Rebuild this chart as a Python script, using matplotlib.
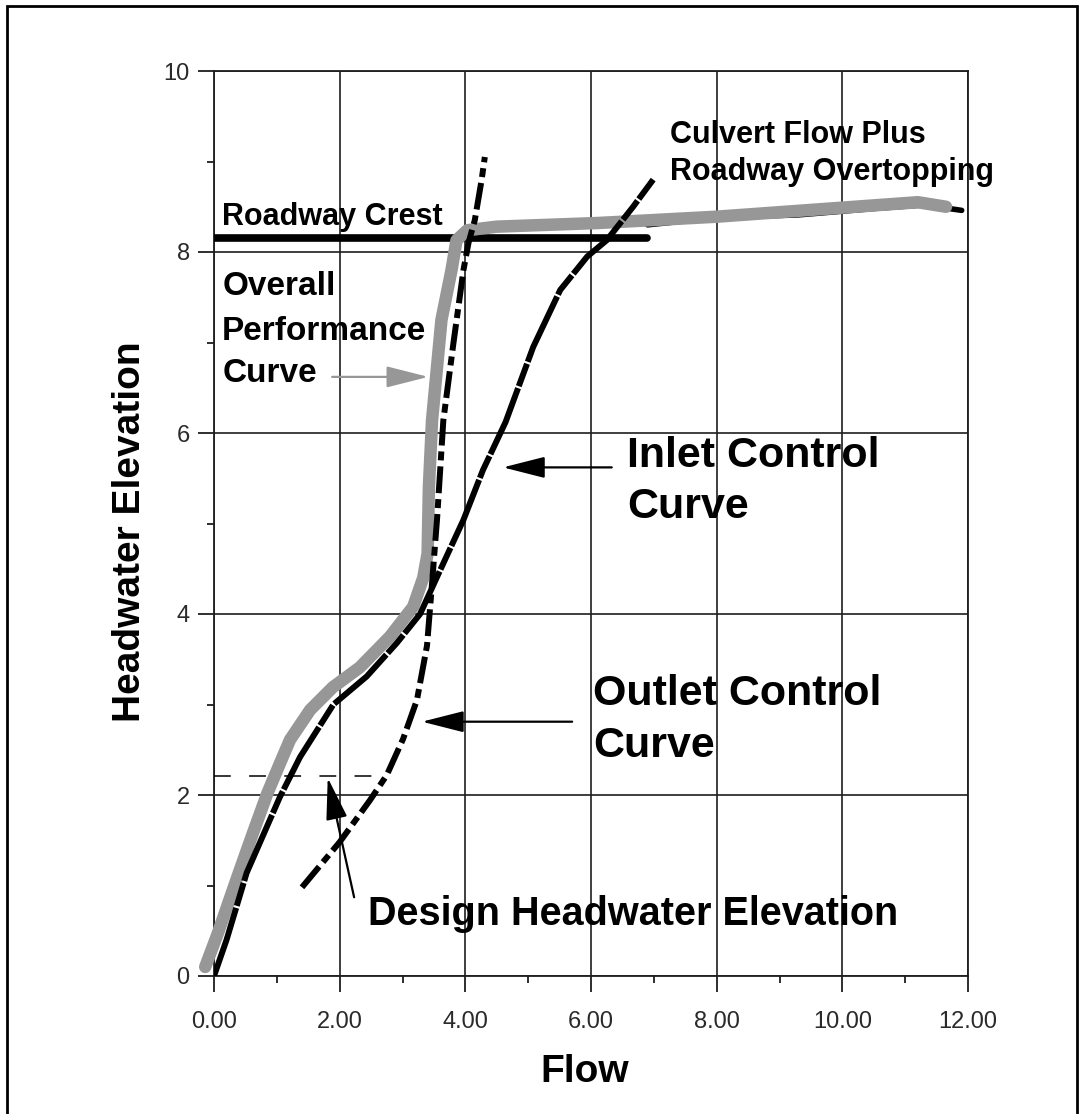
import matplotlib
matplotlib.use("Agg")
import matplotlib.pyplot as plt
from matplotlib.patches import Rectangle
from matplotlib.ticker import MultipleLocator, FormatStrFormatter

plt.rcParams['font.family'] = ['Liberation Sans', 'DejaVu Sans']

# ---------------- data ----------------
perf_x = [-0.14, 0.06, 0.37, 0.62, 0.85, 1.05, 1.21, 1.53, 1.89, 2.32, 2.80, 3.17, 3.33,
          3.40, 3.42, 3.47, 3.62, 3.78, 3.86, 4.03, 4.50, 6.10, 8.00, 10.00, 11.20, 11.65]
perf_y = [0.10, 0.47, 1.09, 1.58, 2.02, 2.35, 2.61, 2.94, 3.19, 3.41, 3.75, 4.08, 4.40,
          4.67, 5.40, 6.14, 7.25, 7.80, 8.13, 8.24, 8.28, 8.32, 8.39, 8.49, 8.55, 8.50]

inlet_x = [0.0, 0.2, 0.52, 1.05, 1.37, 1.9, 2.43, 2.91, 3.28, 3.55, 3.97, 4.28, 4.64,
           5.08, 5.51, 5.94, 6.25, 6.67, 6.99]
inlet_y = [0.0, 0.40, 1.14, 1.98, 2.42, 3.0, 3.31, 3.68, 4.0, 4.41, 5.04, 5.59, 6.12,
           6.95, 7.58, 7.95, 8.13, 8.50, 8.80]

outlet_x = [1.40, 2.0, 2.48, 2.75, 3.01, 3.23, 3.39, 3.46, 3.55, 3.65, 3.81, 3.97, 4.05,
            4.15, 4.26, 4.31]
outlet_y = [0.98, 1.48, 1.94, 2.22, 2.62, 3.05, 3.65, 4.25, 5.05, 6.14, 6.99, 7.80, 8.10,
            8.35, 8.80, 9.05]

overtop_x = [6.9, 8.0, 9.3, 10.5, 11.3, 11.9]
overtop_y = [8.30, 8.38, 8.41, 8.48, 8.52, 8.46]

crest_x = [0.0, 6.89]
crest_y = [8.15, 8.15]

design_x = [0.0, 2.65]
design_y = [2.21, 2.21]

x_ticks = [0, 2, 4, 6, 8, 10, 12]
y_ticks = [0, 2, 4, 6, 8, 10]

GRAY = '#979797'
DARK = '#1e1e1e'

W, H = 1081, 1114
fig = plt.figure(figsize=(W / 100, H / 100), dpi=100)
fig.patch.set_facecolor('white')
ax = fig.add_axes([214 / W, 1 - 976 / H, (968 - 214) / W, (976 - 71) / H])

ax.set_xlim(0, 12)
ax.set_ylim(0, 10)
ax.set_xticks(x_ticks)
ax.set_yticks(y_ticks)
ax.xaxis.set_major_formatter(FormatStrFormatter('%.2f'))
ax.xaxis.set_minor_locator(MultipleLocator(1))
ax.yaxis.set_minor_locator(MultipleLocator(1))
ax.grid(True, which='major', color=DARK, lw=1.2)
ax.set_axisbelow(True)
for s in ax.spines.values():
    s.set_color(DARK)
    s.set_linewidth(1.3)
ax.tick_params(which='major', direction='out', length=11.5, width=1.3, color=DARK,
               labelsize=17, labelcolor='#2a2a2a')
ax.tick_params(which='minor', direction='out', length=5, width=1.3, color=DARK)
ax.tick_params(axis='x', which='major', pad=14)
ax.tick_params(axis='y', which='major', pad=6)

# curves
ax.plot(crest_x, crest_y, color='black', lw=5.5, solid_capstyle='round', zorder=3)
ax.plot(overtop_x, overtop_y, color='black', lw=4, solid_capstyle='round', zorder=3)
ax.plot(design_x, design_y, color='black', lw=1.1, linestyle=(0, (11, 12)), zorder=3,
        clip_on=False)
ax.plot(perf_x, perf_y, color=GRAY, lw=9, solid_capstyle='round',
        solid_joinstyle='round', zorder=4, clip_on=False)
ax.plot(inlet_x, inlet_y, color='black', lw=4.3, linestyle=(0, (12, 0.35, 4, 0.35)),
        dash_capstyle='butt', solid_joinstyle='round', zorder=5)
ax.plot(outlet_x, outlet_y, color='black', lw=4.3, linestyle=(0, (4.5, 1.0, 1.5, 1.0)),
        dash_capstyle='butt', zorder=5)

# annotation arrows
def arrow(tail, tip, color):
    ax.annotate('', xy=tip, xytext=tail,
                arrowprops=dict(arrowstyle='-|>,head_length=1.3,head_width=0.33',
                                mutation_scale=20, lw=1.6, color=color,
                                shrinkA=0, shrinkB=0), zorder=6)

arrow((2.23, 0.87), (1.81, 2.19), 'black')
arrow((6.33, 5.62), (4.60, 5.62), 'black')
arrow((5.70, 2.81), (3.31, 2.81), 'black')
arrow((1.88, 6.62), (3.41, 6.62), GRAY)

# texts
def label(x, y, s, size):
    ax.text(x, y, s, fontsize=size, fontweight='bold', color='black',
            ha='left', va='baseline', zorder=7)

label(0.13, 8.30, 'Roadway Crest', 22)
label(0.13, 7.52, 'Overall', 24)
label(0.13, 7.03, 'Performance', 24)
label(0.13, 6.56, 'Curve', 24)
label(7.26, 9.20, 'Culvert Flow Plus', 22)
label(7.26, 8.80, 'Roadway Overtopping', 22)
label(6.57, 5.62, 'Inlet Control', 31)
label(6.57, 5.06, 'Curve', 31)
label(6.03, 2.99, 'Outlet Control', 31)
label(6.03, 2.42, 'Curve', 31)
label(2.45, 0.56, 'Design Headwater Elevation', 28.5)

fig.text(130 / W, 1 - 532 / H, 'Headwater Elevation', rotation=90, fontsize=28,
         fontweight='bold', ha='center', va='center')
fig.text(585 / W, 1 - 1072 / H, 'Flow', fontsize=28, fontweight='bold',
         ha='center', va='center')

# figure border
fig.add_artist(Rectangle((7 / W, -0.02), (1077 - 7) / W, 1 - 6 / H + 0.02,
                         transform=fig.transFigure, fill=False, ec='black', lw=2))

fig.savefig('out.png', dpi=100)
